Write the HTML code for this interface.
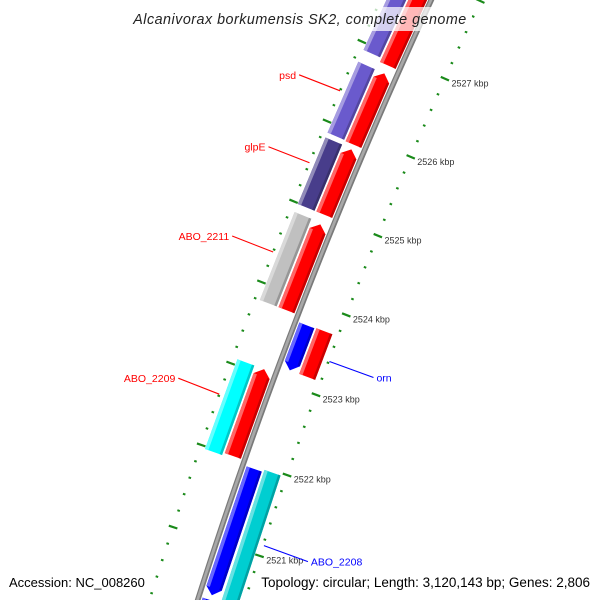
<!DOCTYPE html>
<html><head><meta charset="utf-8"><style>
html,body{margin:0;padding:0;background:#fff;width:600px;height:600px;overflow:hidden;}
svg{display:block;overflow:hidden;font-family:"Liberation Sans","DejaVu Sans",sans-serif;}
</style></head><body>
<svg id="map" width="600" height="600" viewBox="0 0 600 600" xmlns="http://www.w3.org/2000/svg">
<g id="ticks"></g>
<g id="backbone"></g>
<g id="feats"></g>
<g id="labels"></g>
<rect x="128" y="7" width="344" height="24" fill="#fff" fill-opacity="0.72"/>
<text x="300" y="24" text-anchor="middle" font-size="14.3" font-style="italic" fill="#222" letter-spacing="0.5">Alcanivorax borkumensis SK2, complete genome</text>
<text x="9" y="587" font-size="13" fill="#000">Accession: NC_008260</text>
<text x="590" y="587" text-anchor="end" font-size="13.5" fill="#000">Topology: circular; Length: 3,120,143 bp; Genes: 2,806</text>
</svg>
<script>
// feature data (kbp)
const featLabel  = ["", "psd", "glpE", "ABO_2211", "ABO_2209", "", "", "", "", "", "orn", "ABO_2208", "", "orn-cog", "ABO_2208-cog"];
const featStart  = [2526.87, 2525.87, 2524.99, 2523.80, 2522.00, 2526.92, 2525.88, 2524.99, 2523.80, 2521.97, 2523.16, 2520.39, 2519.50, 2523.16, 2519.50];
const featEnd    = [2528.20, 2526.77, 2525.81, 2524.87, 2523.07, 2528.20, 2526.77, 2525.82, 2524.89, 2523.07, 2523.72, 2521.94, 2520.33, 2523.73, 2521.97];
const featRing   = [-1, -1, -1, -1, -1, -2, -2, -2, -2, -2, 1, 1, 1, 2, 2];
const featStrand = [1, 1, 1, 1, 1, 0, 0, 0, 0, 0, -1, -1, -1, 0, 0];
const featColor  = ["#ff0000","#ff0000","#ff0000","#ff0000","#ff0000","#6a5acd","#6a5acd","#483d8b","#c0c0c0","#00ffff","#0000ff","#0000ff","#0000ff","#ff0000","#00ced1"];
const labelText  = ["psd", "glpE", "ABO_2211", "ABO_2209", "orn", "ABO_2208"];
const labelPos   = [2526.38, 2525.48, 2524.37, 2522.62, 2523.42, 2521.13];
const labelRing  = [-2, -2, -2, -2, 2, 2];
const labelColor = ["#ff0000","#ff0000","#ff0000","#ff0000","#0000ff","#0000ff"];
const majorTicks = [2520, 2521, 2522, 2523, 2524, 2525, 2526, 2527];

const NS = "http://www.w3.org/2000/svg";
const R = 5200, CX = 299.5 + 0.933 * R, CY = 300 + 0.362 * R;
const PHI0 = Math.atan2(-0.362, -0.933), PREF = 2523.965, PXK = 86.1;
function pt(p, d) {
  const a = PHI0 + (p - PREF) * PXK / R, r = R - d;
  return [CX + r * Math.cos(a), CY + r * Math.sin(a)];
}
const ringD = {"-2": [-41, -23], "-1": [-21, -4], "1": [4, 20], "2": [22, 39]};
function poly(pts) { return pts.map(q => q[0].toFixed(2) + "," + q[1].toFixed(2)).join(" "); }
function shade(hex, f) {
  const n = parseInt(hex.slice(1), 16);
  let c = [(n >> 16) & 255, (n >> 8) & 255, n & 255];
  c = c.map(v => f > 0 ? Math.round(v + (255 - v) * f) : Math.round(v * (1 + f)));
  return "rgb(" + c.join(",") + ")";
}
function mk(tag, attrs, parent) {
  const e = document.createElementNS(NS, tag);
  for (const k in attrs) e.setAttribute(k, attrs[k]);
  parent.appendChild(e);
  return e;
}

// backbone
const bb = document.getElementById("backbone");
function band(d0, d1, col, parent, name) {
  const a = [], b = [];
  for (let p = 2519; p <= 2529; p += 0.25) { a.push(pt(p, d0)); b.unshift(pt(p, d1)); }
  const e = mk("polygon", {points: poly(a.concat(b)), fill: col}, parent);
  
  
}
band(-2.8, 2.8, "#7a7a7a", bb, "backbone-edge");
band(-1.6, 1.1, "#a8a8a8", bb, "backbone-core");

// ticks
const tk = document.getElementById("ticks");
for (let i = 0; i <= 45; i++) {
  const p = 2519.6 + i * 0.2;
  const major = Math.abs(p - Math.round(p)) < 0.01;
  [45, -46].forEach(d => {
    const len = major ? 4.5 : 1.3;
    const a = pt(p, d - len), b = pt(p, d + len);
    const ln = mk("line", {x1: a[0], y1: a[1], x2: b[0], y2: b[1], stroke: "#1a8a1a", "stroke-width": major ? 2.2 : 2}, tk);
    
    
  });
}
majorTicks.forEach(p => {
  const q = pt(p, 50);
  const t = mk("text", {x: q[0] + 2, y: q[1] + 6, "font-size": "9", fill: "#333"}, tk);
  
  
  t.textContent = p + " kbp";
});

// features
const fg = document.getElementById("feats");
const AR = 0.085;
for (let i = 0; i < featStart.length; i++) {
  const [d0, d1] = ringD[featRing[i]], dm = (d0 + d1) / 2;
  const s = featStart[i], e = featEnd[i], st = featStrand[i];
  let pts;
  let b0 = s, b1 = e;
  if (st === 1) { b1 = e - AR; pts = [pt(s, d0), pt(b1, d0), pt(e, dm), pt(b1, d1), pt(s, d1)]; }
  else if (st === -1) { b0 = s + AR; pts = [pt(b0, d0), pt(e, d0), pt(e, d1), pt(b0, d1), pt(s, dm)]; }
  else { pts = [pt(s, d0), pt(e, d0), pt(e, d1), pt(s, d1)]; }
  const g = mk("g", {}, fg);
  
  
  mk("polygon", {points: poly(pts), fill: featColor[i]}, g);
  const lt = mk("polygon", {points: poly([pt(b0, d0), pt(b1, d0), pt(b1, d0 + 3.5), pt(b0, d0 + 3.5)]), fill: shade(featColor[i], 0.4)}, g);
  
  
  const dk = mk("polygon", {points: poly([pt(b0, d1 - 2.5), pt(b1, d1 - 2.5), pt(b1, d1), pt(b0, d1)]), fill: shade(featColor[i], -0.22)}, g);
  
  
}

// labels
const lg = document.getElementById("labels");
for (let i = 0; i < labelText.length; i++) {
  const left = labelRing[i] < 0;
  const a = pt(labelPos[i], left ? -46 : 46);
  const b = [a[0] + (left ? -41 : 44), left ? a[1] - 16 : a[1] + 16];
  const ln = mk("line", {x1: a[0], y1: a[1], x2: b[0], y2: b[1], stroke: labelColor[i], "stroke-width": 1.1}, lg);
  
  
  const t = mk("text", {x: left ? b[0] - 3 : b[0] + 3, y: b[1] + 4, "font-size": "10.5", fill: labelColor[i], "text-anchor": left ? "end" : "start"}, lg);
  
  
  t.textContent = labelText[i];
}
</script>
</body></html>
